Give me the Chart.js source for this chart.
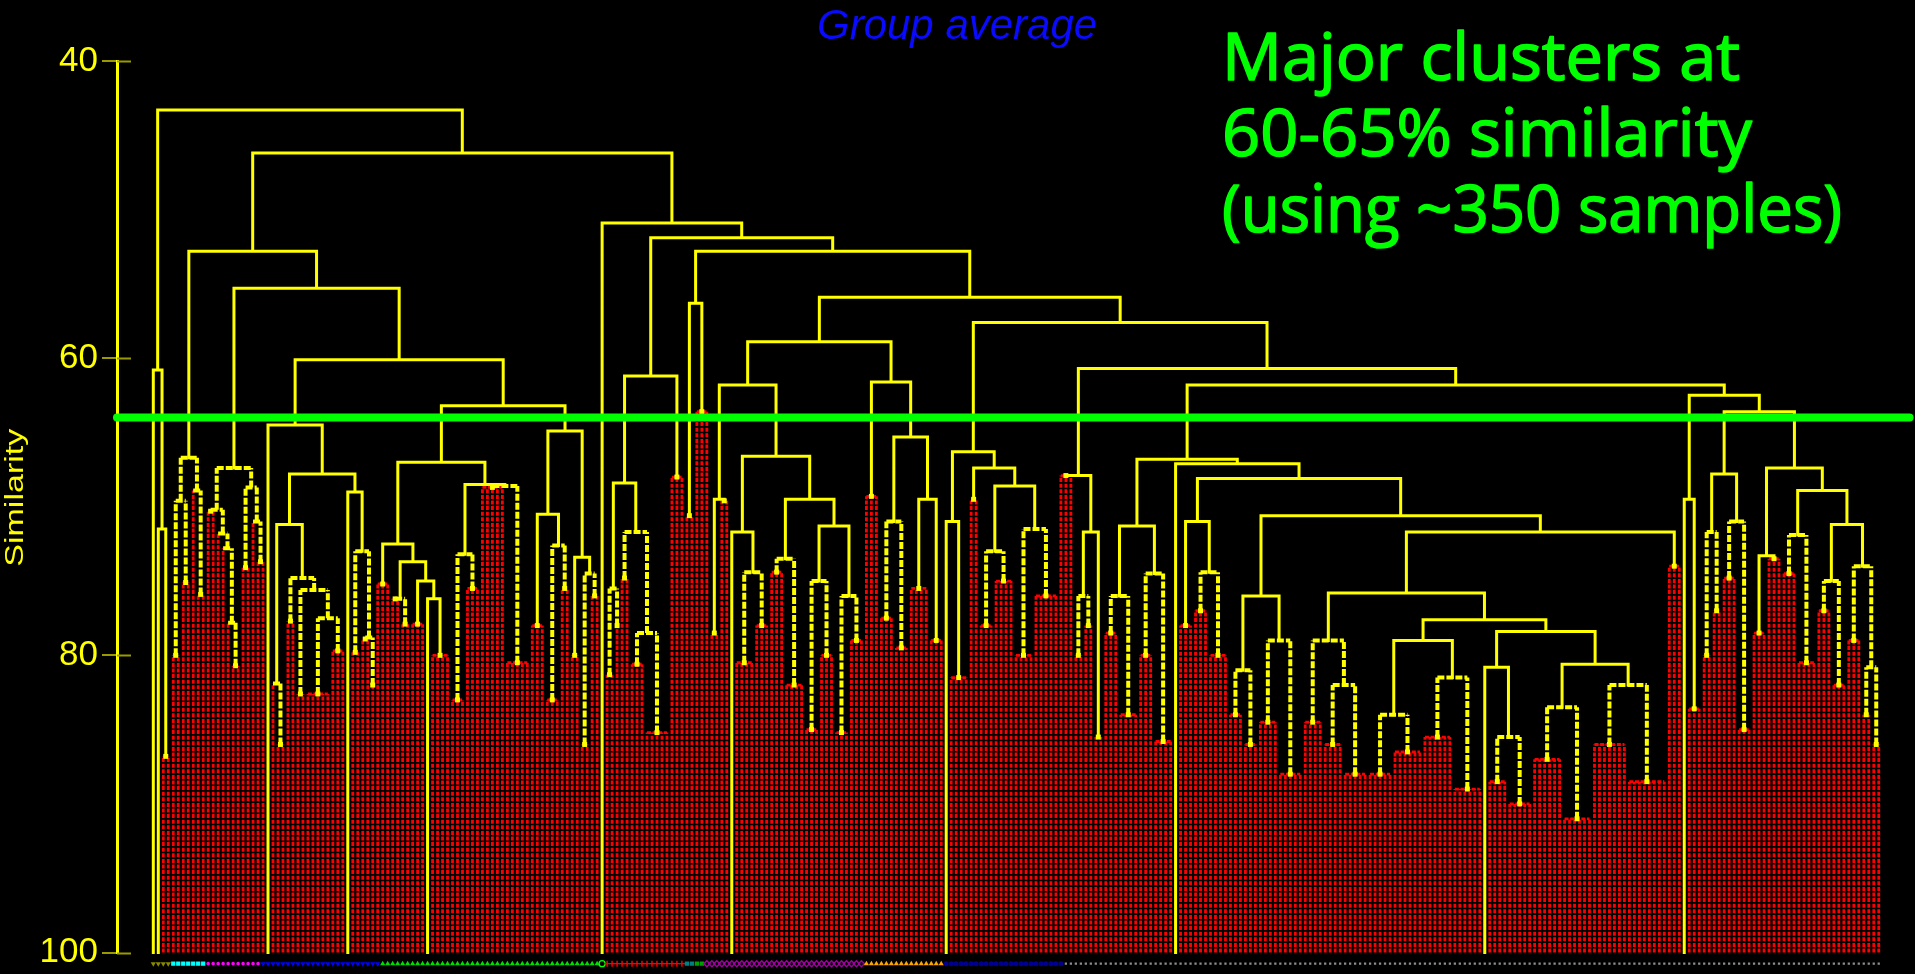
<!DOCTYPE html>
<html>
<head>
<meta charset="utf-8">
<script src="https://cdn.jsdelivr.net/npm/chart.js@4.4.1/dist/chart.umd.min.js"></script>
<style>
  html, body { margin: 0; padding: 0; background: #000; overflow: hidden; }
  canvas { display: block; }
</style>
</head>
<body>
<canvas id="chart" width="1915" height="974"></canvas>
<script>
// Dendrogram nodes: [similarity, style, ...children]
// A numeric child n means n samples joined directly at that node.
// style: 'y' = significant split (solid yellow), 'd' = dashed yellow, 'r' = no significant structure (red)
const groupOlive = [60.8, 'y', 1, [71.5, 'y', 1, [86.8, 'r', 2]]];
const groupCyan = [66.7, 'd', [69.6, 'd', [80.0, 'r', 2], [75.1, 'r', 2]], [68.9, 'd', 1, [75.9, 'r', 2]]];
const groupMagenta = [67.4, 'd',
  [70.2, 'd', [70.3, 'r', 2], [71.8, 'd', 1, [72.8, 'd', 1, [77.8, 'd', 1, [80.7, 'r', 2]]]]],
  [68.7, 'd', [74.1, 'r', 2], [71.0, 'd', 1, [73.7, 'r', 2]]]];
const groupBlue = [64.5, 'y', 1,
  [67.8, 'y',
    [71.2, 'y', [81.9, 'd', 1, [86.0, 'r', 2]],
      [74.8, 'd', [77.7, 'r', 2], [75.6, 'd', [82.6, 'r', 2], [77.5, 'd', [82.6, 'r', 5], [79.7, 'r', 3]]]]],
    [69.0, 'y', 1, [73.0, 'd', [79.8, 'r', 2], [78.8, 'd', [78.9, 'r', 2], [82.0, 'r', 1]]]]]];
const groupGreenA = [67.0, 'y',
  [72.5, 'y', [75.2, 'r', 3],
    [73.7, 'y', [76.2, 'd', [76.2, 'r', 2], [77.9, 'r', 2]],
      [75.0, 'y', [77.9, 'r', 3], [76.2, 'y', 1, [80.0, 'r', 4]]]]],
  [68.5, 'y', [73.2, 'd', [83.0, 'r', 3], [75.5, 'r', 3]], [68.6, 'd', [68.7, 'r', 5], [80.5, 'r', 5]]]];
const groupGreenB = [64.9, 'y',
  [70.5, 'y', [78.0, 'r', 3], [72.6, 'd', [83.0, 'r', 3], [75.5, 'r', 2]]],
  [73.4, 'y', [80.0, 'r', 2], [74.5, 'd', [86.0, 'r', 2], [76.0, 'r', 2]]]];
const groupRedPlus = [61.2, 'y',
  [68.4, 'y', [75.5, 'd', [81.3, 'r', 2], [78.0, 'r', 1]],
    [71.7, 'd', [74.8, 'r', 2], [78.5, 'd', [80.6, 'r', 3], [85.2, 'r', 5]]]],
  [68.0, 'r', 3]];
const groupTeal = [56.3, 'y', [70.6, 'r', 2], [63.6, 'r', 3]];
const groupPurple = [61.8, 'y',
  [69.5, 'y', [78.5, 'r', 2], [69.6, 'r', 2]],
  [66.6, 'y',
    [71.7, 'y', 1, [74.4, 'd', [80.5, 'r', 4], [78.0, 'r', 3]]],
    [69.5, 'y', [73.5, 'd', [74.4, 'r', 3], [82.0, 'r', 4]],
      [71.3, 'y', [75.0, 'd', [85.0, 'r', 3], [80.0, 'r', 3]], [76.0, 'd', [85.2, 'r', 3], [79.0, 'r', 3]]]]]];
const groupOrange = [61.6, 'y', [69.3, 'r', 3],
  [65.3, 'y', [71.0, 'd', [77.5, 'r', 3], [79.5, 'r', 3]], [69.5, 'y', [75.5, 'r', 4], [79.0, 'r', 3]]]];
const groupNavy = [66.3, 'y',
  [71.0, 'y', 1, [81.5, 'r', 4]],
  [67.4, 'y', [69.5, 'r', 2],
    [68.6, 'y', [73.0, 'd', [78.0, 'r', 3], [75.0, 'r', 4]], [71.5, 'd', [80.0, 'r', 4], [76.0, 'r', 5]]]]];
const groupGreyA = [67.9, 'y', [67.9, 'r', 3],
  [71.7, 'y', [76.0, 'd', [80.0, 'r', 2], [78.0, 'r', 2]], [85.5, 'r', 2]]];
const groupGreyB = [71.3, 'y', [76.0, 'd', [78.5, 'r', 3], [84.0, 'r', 4]], [74.5, 'd', [80.0, 'r', 3], [85.8, 'r', 4]]];
const groupGreyC = [71.0, 'y', [78.0, 'r', 3], [74.4, 'd', [77.0, 'r', 3], [80.0, 'r', 4]]];
const groupGreyD = [76.0, 'y', [81.0, 'd', [84.0, 'r', 3], [86.0, 'r', 3]], [79.0, 'd', [84.5, 'r', 4], [88.0, 'r', 5]]];
const groupGreyE = [79.0, 'd', [84.5, 'r', 4], [82.0, 'd', [86.0, 'r', 4], [88.0, 'r', 5]]];
const groupGreyF = [79.0, 'y', [84.0, 'd', [88.0, 'r', 5], [86.5, 'r', 6]], [81.5, 'd', [85.5, 'r', 6], [89.0, 'r', 6]]];
const groupGreyG = [78.4, 'y',
  [80.8, 'y', 1, [85.5, 'd', [88.5, 'r', 4], [90.0, 'r', 5]]],
  [80.6, 'y', [83.5, 'd', [87.0, 'r', 6], [91.0, 'r', 6]], [82.0, 'd', [86.0, 'r', 7], [88.5, 'r', 8]]]];
const groupGreyH = [62.5, 'y',
  [69.5, 'y', 1, [83.6, 'r', 3]],
  [63.6, 'y',
    [67.8, 'y', [71.7, 'd', [80.0, 'r', 2], [77.0, 'r', 2]], [71.0, 'd', [74.8, 'r', 3], [85.0, 'r', 3]]],
    [67.4, 'y',
      [73.3, 'y', [78.5, 'r', 3], [73.5, 'r', 3]],
      [68.9, 'y', [71.9, 'd', [74.5, 'r', 3], [80.5, 'r', 4]],
        [71.2, 'y', [75.0, 'd', [77.0, 'r', 3], [82.0, 'r', 3]],
          [74.0, 'd', [79.0, 'r', 3], [80.8, 'd', [84.0, 'r', 2], [86.0, 'r', 2]]]]]]]];

// Joins of the large grey block
const greyBlock = [66.8, 'y', groupGreyB,
  [67.1, 'y', 1,
    [68.1, 'y', groupGreyC,
      [70.6, 'y', groupGreyD,
        [71.7, 'y', [75.8, 'y', groupGreyE, [77.6, 'y', groupGreyF, groupGreyG]], [74.0, 'r', 3]]]]]];

// Upper joins between the groups
const dendrogram = [43.3, 'y', groupOlive,
  [46.2, 'y',
    [52.8, 'y', groupCyan, [55.3, 'y', groupMagenta, [60.1, 'y', groupBlue, [63.2, 'y', groupGreenA, groupGreenB]]]],
    [50.9, 'y', 1,
      [51.9, 'y', groupRedPlus,
        [52.8, 'y', groupTeal,
          [55.9, 'y', [58.9, 'y', groupPurple, groupOrange],
            [57.6, 'y', groupNavy, [60.7, 'y', groupGreyA, [61.8, 'y', greyBlock, groupGreyH]]]]]]]]];

// Sample symbols along the base, in leaf order
const symbolCounts = [4, 7, 11, 24, 44, 1, 16, 2, 2, 32, 16, 24, 164];
const symbolShapes = ['triangle', 'rect', 'circle', 'triangle', 'triangle', 'circle', 'cross', 'rect', 'rect', 'rectRot', 'triangle', 'circle', 'rect'];
const symbolColors = ['#8a8a00', '#00ffff', '#ff00ff', '#0000ff', '#00dd00', '#00ff00', '#ff0000', '#008080', '#00a000', '#a000a0', '#ffa500', '#000090', '#8c8c8c'];
const symbolRotation = [180, 0, 0, 180, 0, 0, 0, 0, 0, 0, 0, 0, 0];
const symbolFilled = [true, true, true, true, true, false, false, true, true, false, true, true, true];
const symbolSizes = [3, 3, 1.8, 3, 3, 3, 3, 3, 3, 3, 3, 2.5, 1.6];

const cutLevel = 64.0;
const yTicks = [40, 60, 80, 100];
const noteLines = ['Major clusters at', '60-65% similarity', '(using ~350 samples)'];

// ---- layout of the tree ----
const segments = { y: [], d: [], r: [] };
const blobs = [];
let nextLeaf = 0;

function addSeg(list, x0, y0, x1, y1) {
  list.push({ x: x0, y: y0 }, { x: x1, y: y1 }, { x: x1, y: null });
}

function place(node) {
  const [h, style, ...kids] = node;
  const tops = [];
  kids.forEach(k => {
    if (typeof k === 'number') {
      for (let i = 0; i < k; i++) tops.push({ x: nextLeaf++, h: 100, leaf: true });
    } else {
      tops.push(place(k));
    }
  });
  tops.forEach(t => {
    const s = (t.leaf && style !== 'y') ? 'r' : style;
    addSeg(segments[s], t.x, t.h, t.x, h);
    if (!t.leaf && t.style === 'r' && style !== 'r') blobs.push({ x: t.x, y: t.h });
  });
  const x0 = tops[0].x, x1 = tops[tops.length - 1].x;
  if (x1 > x0) addSeg(segments[style], x0, h, x1, h);
  return { x: (x0 + x1) / 2, h, style };
}
place(dendrogram);
const leafCount = nextLeaf;
const xMin = -7.28, xMax = leafCount - 1 + 6.19;

// sample symbols sit just below the 100 line
const symbolSets = [];
let leafPos = 0;
symbolCounts.forEach((n, i) => {
  const pts = [];
  for (let k = 0; k < n; k++) pts.push({ x: leafPos++, y: 100.75 });
  symbolSets.push({
    type: 'scatter', data: pts, order: 1, clip: false, showLine: false,
    pointStyle: symbolShapes[i], rotation: symbolRotation[i],
    pointRadius: symbolSizes[i], pointBorderWidth: symbolFilled[i] ? 0 : 1.4,
    pointBackgroundColor: symbolFilled[i] ? symbolColors[i] : 'rgba(0,0,0,0)',
    pointBorderColor: symbolColors[i], isSymbolRow: true
  });
});

function lineSet(data, color, width, dash, cap, order) {
  return {
    type: 'scatter', data, showLine: true, spanGaps: false, borderColor: color, borderWidth: width,
    borderDash: dash, borderCapStyle: cap, pointRadius: 0, pointHoverRadius: 0, order, clip: false
  };
}

const datasets = [
  lineSet(segments.r, '#ff0000', 2.8, [4, 1.6], 'butt', 6),
  lineSet(segments.d, '#ffff00', 4, [7, 2], 'butt', 5),
  {
    type: 'scatter', data: blobs, pointStyle: 'rect', pointRadius: 3.5, pointBorderWidth: 0,
    pointBackgroundColor: '#ffff00', order: 4, clip: false
  },
  lineSet(segments.y, '#ffff00', 3, [], 'square', 3),
  {
    type: 'scatter', data: [{ x: xMin, y: cutLevel }, { x: xMax, y: cutLevel }], showLine: true,
    borderColor: '#00ff00', borderWidth: 8, borderCapStyle: 'round', pointRadius: 0, order: 0, clip: false
  },
  ...symbolSets
];

// symbols lie outside the plotting area, so they are painted here from the dataset elements
const symbolRow = {
  id: 'symbolRow',
  afterDatasetsDraw(chart) {
    const ctx = chart.ctx;
    chart.data.datasets.forEach((ds, i) => {
      if (!ds.isSymbolRow) return;
      const meta = chart.getDatasetMeta(i);
      ctx.save();
      ctx.fillStyle = ds.pointBackgroundColor;
      ctx.strokeStyle = ds.pointBorderColor;
      ctx.lineWidth = ds.pointBorderWidth;
      meta.data.forEach(el => {
        Chart.helpers.drawPoint(ctx, {
          pointStyle: ds.pointStyle, rotation: ds.rotation, radius: ds.pointRadius,
          borderWidth: ds.pointBorderWidth
        }, el.x, el.y);
      });
      ctx.restore();
    });
  }
};

const axisTicksInside = {
  id: 'axisTicksInside',
  afterDraw(chart) {
    const ctx = chart.ctx, ys = chart.scales.y, left = chart.chartArea.left;
    ctx.save();
    ctx.strokeStyle = '#9a9a00';
    ctx.lineWidth = 2;
    yTicks.forEach(v => {
      const py = Math.round(ys.getPixelForValue(v)) + 0.5;
      ctx.beginPath(); ctx.moveTo(left, py); ctx.lineTo(left + 14, py); ctx.stroke();
    });
    ctx.restore();
  }
};

const headings = {
  id: 'headings',
  afterDraw(chart) {
    const ctx = chart.ctx;
    const ys = chart.scales.y;
    ctx.save();
    ctx.textAlign = 'left';
    ctx.textBaseline = 'alphabetic';
    ctx.fillStyle = '#0a0aff';
    ctx.font = 'italic 42px "Liberation Sans", Arial, sans-serif';
    ctx.fillText('Group average', 817, 39);

    // axis title, stretched along its length
    ctx.save();
    ctx.fillStyle = '#ffff00';
    ctx.font = '26px "Liberation Sans", Arial, sans-serif';
    const tw = ctx.measureText('Similarity').width;
    ctx.translate(23, (ys.top + ys.bottom) / 2 - 9);
    ctx.rotate(-Math.PI / 2);
    ctx.scale(138 / tw, 1);
    ctx.textAlign = 'center';
    ctx.fillText('Similarity', 0, 0);
    ctx.restore();

    ctx.fillStyle = '#00ff00';
    ctx.strokeStyle = '#00ff00';
    ctx.lineWidth = 1.6;
    ctx.lineJoin = 'round';
    ctx.font = '66px "Comic Sans MS", "Open Sans", sans-serif';
    const widths = [518, 530, 620];
    const baselines = [80, 156, 232];
    noteLines.forEach((t, i) => {
      const w = ctx.measureText(t).width;
      ctx.save();
      ctx.translate(1222, baselines[i]);
      ctx.scale(widths[i] / w, 1);
      ctx.fillText(t, 0, 0);
      ctx.strokeText(t, 0, 0);
      ctx.restore();
    });
    ctx.restore();
  }
};

new Chart(document.getElementById('chart'), {
  type: 'scatter',
  data: { datasets },
  options: {
    responsive: false,
    animation: false,
    devicePixelRatio: 1,
    events: [],
    layout: { padding: { top: 61, bottom: 18, left: 0, right: 0 } },
    plugins: { legend: { display: false }, tooltip: { enabled: false }, title: { display: false } },
    scales: {
      x: { type: 'linear', display: false, min: xMin, max: xMax },
      y: {
        type: 'linear', reverse: true, min: 40, max: 100,
        afterFit(scale) { scale.width = 117; },
        afterBuildTicks(scale) { scale.ticks = yTicks.map(v => ({ value: v })); },
        border: { display: true, color: '#ffff00', width: 3 },
        grid: { display: true, drawOnChartArea: false, drawTicks: true, tickLength: 15, color: '#9a9a00', lineWidth: 2 },
        ticks: { color: '#ffff00', padding: 4, font: { family: '"Liberation Sans", Arial, sans-serif', size: 35, lineHeight: 1 } },
        title: { display: false }
      }
    }
  },
  plugins: [symbolRow, axisTicksInside, headings]
});
</script>
</body>
</html>
